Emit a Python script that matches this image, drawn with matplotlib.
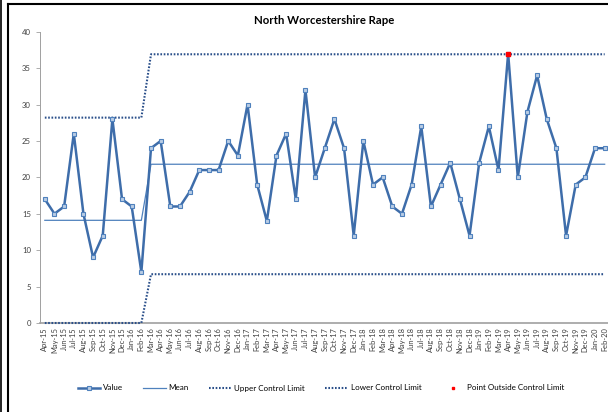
import matplotlib.pyplot as plt
from matplotlib.lines import Line2D

plt.rcParams['font.family'] = ['Lato', 'DejaVu Sans']

months = ['Apr-15', 'May-15', 'Jun-15', 'Jul-15', 'Aug-15', 'Sep-15', 'Oct-15', 'Nov-15', 'Dec-15',
          'Jan-16', 'Feb-16', 'Mar-16', 'Apr-16', 'May-16', 'Jun-16', 'Jul-16', 'Aug-16', 'Sep-16',
          'Oct-16', 'Nov-16', 'Dec-16', 'Jan-17', 'Feb-17', 'Mar-17', 'Apr-17', 'May-17', 'Jun-17',
          'Jul-17', 'Aug-17', 'Sep-17', 'Oct-17', 'Nov-17', 'Dec-17', 'Jan-18', 'Feb-18', 'Mar-18',
          'Apr-18', 'May-18', 'Jun-18', 'Jul-18', 'Aug-18', 'Sep-18', 'Oct-18', 'Nov-18', 'Dec-18',
          'Jan-19', 'Feb-19', 'Mar-19', 'Apr-19', 'May-19', 'Jun-19', 'Jul-19', 'Aug-19', 'Sep-19',
          'Oct-19', 'Nov-19', 'Dec-19', 'Jan-20', 'Feb-20']

values = [17, 15, 16, 26, 15, 9, 12, 28, 17, 16, 7,
          24, 25, 16, 16, 18, 21, 21, 21, 25, 23, 30, 19, 14, 23, 26, 17,
          32, 20, 24, 28, 24, 12, 25, 19, 20, 16, 15, 19, 27, 16, 19, 22, 17, 12,
          22, 27, 21, 37, 20, 29, 34, 28, 24, 12, 19, 20, 24, 24]

mean = [14.1] * 11 + [21.8] * 48
ucl = [28.2] * 11 + [36.9] * 48
lcl = [0.0] * 11 + [6.7] * 48

outside_idx = [48]
outside_val = [37]

line_blue = '#3E6DAA'
mean_blue = '#4F81BD'
limit_blue = '#2A4F8A'
dots = (0, (0.8, 0.8))

fig = plt.figure(figsize=(6.08, 4.12), dpi=100)
ax = fig.add_axes([40 / 608, (412 - 323) / 412, 569.5 / 608, (323 - 31.7) / 412])

x = list(range(len(months)))
ax.plot(x, ucl, color=limit_blue, lw=1.5, linestyle=dots)
ax.plot(x, lcl, color=limit_blue, lw=1.5, linestyle=dots, clip_on=False, zorder=4)
ax.plot(x, mean, color=mean_blue, lw=0.9)
ax.plot(x, values, color=line_blue, lw=1.8, marker='s', markersize=3.3,
        markerfacecolor='#B9CDE5', markeredgecolor='#4F81BD', markeredgewidth=0.8, zorder=5)
ax.plot(outside_idx, outside_val, linestyle='none', marker='s', markersize=3.3,
        color='#FF0000', zorder=6)

ax.set_xlim(-0.5, len(months) - 0.5)
ax.set_ylim(0, 40)
ax.set_yticks(range(0, 41, 5))
ax.set_xticks(x)
ax.set_xticklabels(months, rotation=90, fontsize=5.4, color='#404040')
ax.tick_params(axis='y', labelsize=5.6, colors='#404040', length=3, width=0.6, color='#A0A0A0')
ax.tick_params(axis='x', length=0, pad=3)
for s in ['top', 'right']:
    ax.spines[s].set_visible(False)
ax.spines['left'].set_color('#A0A0A0')
ax.spines['left'].set_linewidth(0.7)
ax.spines['bottom'].set_color('#A0A0A0')
ax.spines['bottom'].set_linewidth(1.2)

fig.text(324 / 608, 1 - 20 / 412, 'North Worcestershire Rape', ha='center', va='center',
         fontsize=8.2, fontweight='bold')

handles = [
    Line2D([], [], color=line_blue, lw=1.8, marker='s', markersize=3.3,
           markerfacecolor='#B9CDE5', markeredgecolor='#4F81BD', markeredgewidth=0.8),
    Line2D([], [], color=mean_blue, lw=0.9),
    Line2D([], [], color=limit_blue, lw=1.5, linestyle=dots),
    Line2D([], [], color=limit_blue, lw=1.5, linestyle=dots),
    Line2D([], [], linestyle='none', marker='s', markersize=2.0, color='#FF0000'),
]
labels = ['Value', 'Mean', 'Upper Control Limit', 'Lower Control Limit', 'Point Outside Control Limit']
fig.legend(handles, labels, loc='center', bbox_to_anchor=(321 / 608, 1 - 388 / 412), ncol=5,
           frameon=False, fontsize=5.8, handlelength=2.8, columnspacing=2.5, handletextpad=0.35)

# black chart frame (left and top edges visible in crop)
fig.add_artist(Line2D([8 / 608, 8 / 608], [0, 1 - 4 / 412], color='black', lw=1.5))
fig.add_artist(Line2D([8 / 608, 1], [1 - 4 / 412, 1 - 4 / 412], color='black', lw=1.5))
fig.add_artist(Line2D([0.8 / 608, 0.8 / 608], [0, 1], color='black', lw=1.2))

fig.savefig('out.png', dpi=100)
